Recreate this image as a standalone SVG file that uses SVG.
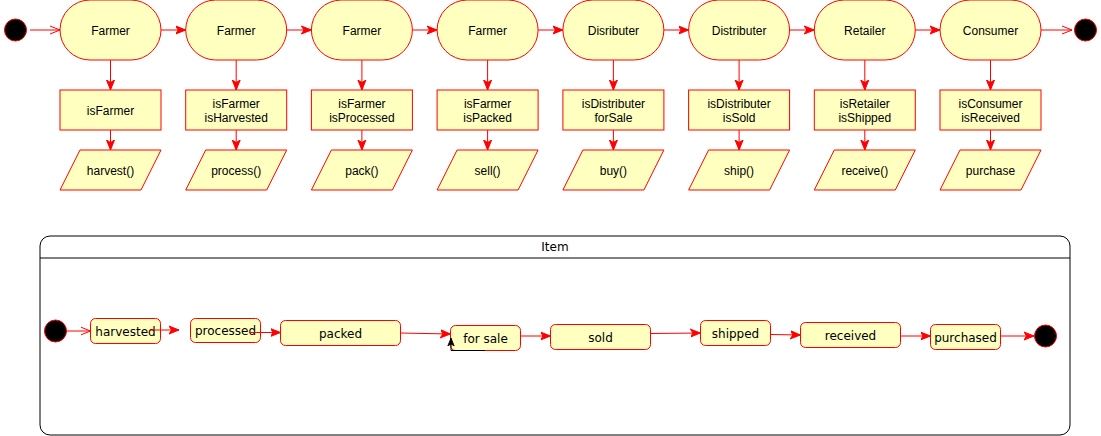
<svg xmlns="http://www.w3.org/2000/svg" width="1101" height="436" viewBox="0 0 1101 436">
<style>
.st{fill:#FFFFC0;stroke:#FF0000;stroke-width:1}
.t{font-family:"Liberation Sans",Arial,sans-serif;font-size:12px;fill:#000;text-anchor:middle}
.t2{font-family:"DejaVu Sans",Verdana,sans-serif;font-size:12px;fill:#000;text-anchor:middle}
.c{fill:none;stroke:#FF0000;stroke-width:1}
.init{fill:#000;stroke:#FF0000;stroke-width:1}
</style>
<defs>
<marker id="fa" viewBox="0 0 10 10" refX="10" refY="5" markerWidth="10" markerHeight="10" markerUnits="userSpaceOnUse" orient="auto"><path d="M0,1 L10,5 L0,9 L2.5,5 Z" fill="#FF0000" stroke="#FF0000"/></marker>
<marker id="oa" viewBox="0 0 10 10" refX="10" refY="5" markerWidth="10" markerHeight="10" markerUnits="userSpaceOnUse" orient="auto"><path d="M0,1 L10,5 L0,9" fill="none" stroke="#FF0000"/></marker>
<marker id="ba" viewBox="0 0 10 10" refX="10" refY="5" markerWidth="8" markerHeight="8" markerUnits="userSpaceOnUse" orient="auto"><path d="M0,1 L10,5 L0,9 L2.5,5 Z" fill="#000" stroke="#000"/></marker>
</defs>
<g id="start"><circle class="init" cx="15.5" cy="30" r="11"/></g>
<g id="end"><circle class="init" cx="1085.5" cy="30" r="11"/></g>
<g id="farmer1"><rect class="st" x="60" y="0" width="101" height="60" rx="30"/><text class="t" x="110.5" y="35">Farmer</text></g>
<g id="farmer2"><rect class="st" x="185.7" y="0" width="101" height="60" rx="30"/><text class="t" x="236.2" y="35">Farmer</text></g>
<g id="farmer3"><rect class="st" x="311.4" y="0" width="101" height="60" rx="30"/><text class="t" x="361.9" y="35">Farmer</text></g>
<g id="farmer4"><rect class="st" x="437.1" y="0" width="101" height="60" rx="30"/><text class="t" x="487.6" y="35">Farmer</text></g>
<g id="distributer1"><rect class="st" x="562.9" y="0" width="101" height="60" rx="30"/><text class="t" x="613.4" y="35">Disributer</text></g>
<g id="distributer2"><rect class="st" x="688.6" y="0" width="101" height="60" rx="30"/><text class="t" x="739.1" y="35">Distributer</text></g>
<g id="retailer"><rect class="st" x="814.3" y="0" width="101" height="60" rx="30"/><text class="t" x="864.8" y="35">Retailer</text></g>
<g id="consumer"><rect class="st" x="940" y="0" width="101" height="60" rx="30"/><text class="t" x="990.5" y="35">Consumer</text></g>

<g id="cond1"><rect class="st" x="60" y="90" width="101" height="40"/><text class="t" x="110.5" y="115">isFarmer</text></g>
<g id="cond2"><rect class="st" x="185.7" y="90" width="101" height="40"/><text class="t" x="236.2" y="108">isFarmer</text><text class="t" x="236.2" y="122">isHarvested</text></g>
<g id="cond3"><rect class="st" x="311.4" y="90" width="101" height="40"/><text class="t" x="361.9" y="108">isFarmer</text><text class="t" x="361.9" y="122">isProcessed</text></g>
<g id="cond4"><rect class="st" x="437.1" y="90" width="101" height="40"/><text class="t" x="487.6" y="108">isFarmer</text><text class="t" x="487.6" y="122">isPacked</text></g>
<g id="cond5"><rect class="st" x="562.9" y="90" width="101" height="40"/><text class="t" x="613.4" y="108">isDistributer</text><text class="t" x="613.4" y="122">forSale</text></g>
<g id="cond6"><rect class="st" x="688.6" y="90" width="101" height="40"/><text class="t" x="739.1" y="108">isDistributer</text><text class="t" x="739.1" y="122">isSold</text></g>
<g id="cond7"><rect class="st" x="814.3" y="90" width="101" height="40"/><text class="t" x="864.8" y="108">isRetailer</text><text class="t" x="864.8" y="122">isShipped</text></g>
<g id="cond8"><rect class="st" x="940" y="90" width="101" height="40"/><text class="t" x="990.5" y="108">isConsumer</text><text class="t" x="990.5" y="122">isReceived</text></g>

<g id="act1"><polygon class="st" points="80,150 161,150 141,190 60,190"/><text class="t" x="110.5" y="175">harvest()</text></g>
<g id="act2"><polygon class="st" points="205.7,150 286.7,150 266.7,190 185.7,190"/><text class="t" x="236.2" y="175">process()</text></g>
<g id="act3"><polygon class="st" points="331.4,150 412.4,150 392.4,190 311.4,190"/><text class="t" x="361.9" y="175">pack()</text></g>
<g id="act4"><polygon class="st" points="457.1,150 538.1,150 518.1,190 437.1,190"/><text class="t" x="487.6" y="175">sell()</text></g>
<g id="act5"><polygon class="st" points="582.9,150 663.9,150 643.9,190 562.9,190"/><text class="t" x="613.4" y="175">buy()</text></g>
<g id="act6"><polygon class="st" points="708.6,150 789.6,150 769.6,190 688.6,190"/><text class="t" x="739.1" y="175">ship()</text></g>
<g id="act7"><polygon class="st" points="834.3,150 915.3,150 895.3,190 814.3,190"/><text class="t" x="864.8" y="175">receive()</text></g>
<g id="act8"><polygon class="st" points="960,150 1041,150 1021,190 940,190"/><text class="t" x="990.5" y="175">purchase</text></g>

<g id="item">
<path d="M50,236 H1060 A10,10 0 0 1 1070,246 V425 A10,10 0 0 1 1060,435 H50 A10,10 0 0 1 40,425 V246 A10,10 0 0 1 50,236 Z" fill="#fff" stroke="#000" stroke-width="1"/>
<line x1="40" y1="258" x2="1070" y2="258" stroke="#000" stroke-width="1"/>
<text class="t2" x="555" y="251">Item</text>
</g>
<g id="s_init"><circle class="init" cx="55.5" cy="331" r="11"/></g>
<g id="s_harvested"><rect class="st" x="90.5" y="318.5" width="70" height="25" rx="5"/><text class="t2" x="125.5" y="335.5">harvested</text></g>
<g id="s_processed"><rect class="st" x="190.5" y="318.5" width="70" height="24" rx="5"/><text class="t2" x="225.5" y="335">processed</text></g>
<g id="s_packed"><rect class="st" x="280.5" y="320.5" width="120" height="25" rx="5"/><text class="t2" x="340.5" y="337.5">packed</text></g>
<g id="s_forsale"><rect class="st" x="450.5" y="325.5" width="70" height="25" rx="5"/><text class="t2" x="485.5" y="343">for sale</text></g>
<g id="s_sold"><rect class="st" x="550.5" y="324.5" width="100" height="25" rx="5"/><text class="t2" x="600.5" y="341.5">sold</text></g>
<g id="s_shipped"><rect class="st" x="700.5" y="320.5" width="70" height="25" rx="5"/><text class="t2" x="735.5" y="338">shipped</text></g>
<g id="s_received"><rect class="st" x="800.5" y="322.5" width="100" height="25" rx="5"/><text class="t2" x="850.5" y="340">received</text></g>
<g id="s_purchased"><rect class="st" x="930.5" y="324.5" width="70" height="25" rx="5"/><text class="t2" x="965.5" y="341.5">purchased</text></g>
<g id="s_end"><circle class="init" cx="1045.5" cy="336" r="11"/></g>

<g id="connectors">
<line class="c" x1="30" y1="30" x2="60" y2="30" marker-end="url(#oa)"/>
<line class="c" x1="161" y1="30" x2="185.7" y2="30" marker-end="url(#fa)"/>
<line class="c" x1="286.7" y1="30" x2="311.4" y2="30" marker-end="url(#fa)"/>
<line class="c" x1="412.4" y1="30" x2="437.1" y2="30" marker-end="url(#fa)"/>
<line class="c" x1="538.1" y1="30" x2="562.9" y2="30" marker-end="url(#fa)"/>
<line class="c" x1="663.9" y1="30" x2="688.6" y2="30" marker-end="url(#fa)"/>
<line class="c" x1="789.6" y1="30" x2="814.3" y2="30" marker-end="url(#fa)"/>
<line class="c" x1="915.3" y1="30" x2="940" y2="30" marker-end="url(#fa)"/>
<line class="c" x1="1041" y1="30" x2="1072" y2="30" marker-end="url(#oa)"/>

<line class="c" x1="110.5" y1="60" x2="110.5" y2="90" marker-end="url(#fa)"/>
<line class="c" x1="236.2" y1="60" x2="236.2" y2="90" marker-end="url(#fa)"/>
<line class="c" x1="361.9" y1="60" x2="361.9" y2="90" marker-end="url(#fa)"/>
<line class="c" x1="487.6" y1="60" x2="487.6" y2="90" marker-end="url(#fa)"/>
<line class="c" x1="613.4" y1="60" x2="613.4" y2="90" marker-end="url(#fa)"/>
<line class="c" x1="739.1" y1="60" x2="739.1" y2="90" marker-end="url(#fa)"/>
<line class="c" x1="864.8" y1="60" x2="864.8" y2="90" marker-end="url(#fa)"/>
<line class="c" x1="990.5" y1="60" x2="990.5" y2="90" marker-end="url(#fa)"/>

<line class="c" x1="110.5" y1="130" x2="110.5" y2="150" marker-end="url(#fa)"/>
<line class="c" x1="236.2" y1="130" x2="236.2" y2="150" marker-end="url(#fa)"/>
<line class="c" x1="361.9" y1="130" x2="361.9" y2="150" marker-end="url(#fa)"/>
<line class="c" x1="487.6" y1="130" x2="487.6" y2="150" marker-end="url(#fa)"/>
<line class="c" x1="613.4" y1="130" x2="613.4" y2="150" marker-end="url(#fa)"/>
<line class="c" x1="739.1" y1="130" x2="739.1" y2="150" marker-end="url(#fa)"/>
<line class="c" x1="864.8" y1="130" x2="864.8" y2="150" marker-end="url(#fa)"/>
<line class="c" x1="990.5" y1="130" x2="990.5" y2="150" marker-end="url(#fa)"/>

<line class="c" x1="67" y1="331" x2="90.5" y2="331" marker-end="url(#oa)"/>
<line class="c" x1="150" y1="330" x2="179" y2="330" marker-end="url(#fa)"/>
<line class="c" x1="250" y1="332.5" x2="280.5" y2="332.5" marker-end="url(#fa)"/>
<line class="c" x1="400.5" y1="333" x2="450.5" y2="334" marker-end="url(#fa)"/>
<line class="c" x1="520.5" y1="336" x2="550.5" y2="336" marker-end="url(#fa)"/>
<line class="c" x1="650.5" y1="333.5" x2="700.5" y2="333" marker-end="url(#fa)"/>
<line class="c" x1="770.5" y1="334.5" x2="800.5" y2="335" marker-end="url(#fa)"/>
<line class="c" x1="900.5" y1="336" x2="930.5" y2="336" marker-end="url(#fa)"/>
<line class="c" x1="1000.5" y1="336" x2="1034" y2="336" marker-end="url(#fa)"/>
<path d="M485,350.5 H451 V338" fill="none" stroke="#000" stroke-width="1" marker-end="url(#ba)"/>
</g>
</svg>
